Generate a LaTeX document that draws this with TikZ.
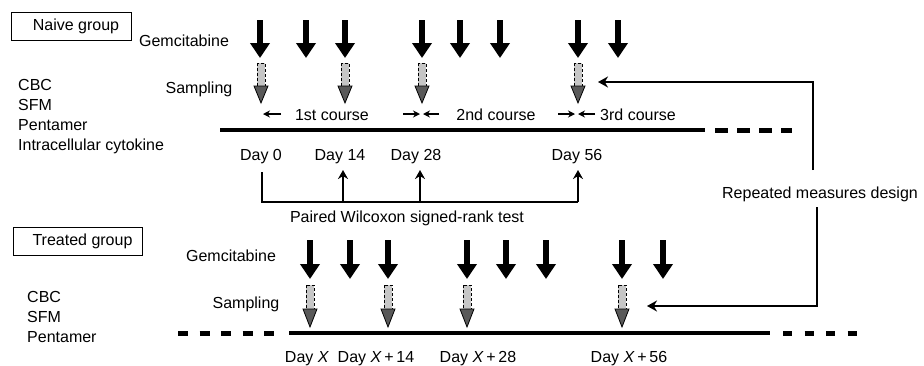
\documentclass[tikz,border=0pt]{standalone}
\usepackage{fontspec}
\setmainfont{Liberation Sans}
\usetikzlibrary{arrows.meta}
\begin{document}
\begin{tikzpicture}[x=1pt,y=-1pt,
  lbl/.style={font=\fontsize{16}{18}\selectfont, inner sep=0pt, text height=11.5pt, text depth=0pt},
  grpbox/.style={draw, line width=0.9pt, minimum width=#1, minimum height=28pt, font=\fontsize{16}{18}\selectfont, inner sep=0pt},
  gem/.style={line width=6pt, -{Triangle[length=15pt,width=19pt]}},
  sampshaft/.style={draw=black, densely dashed, line width=0.8pt, fill=gray!45},
  samphead/.style={draw=black, line width=0.8pt, fill=black!65},
  timeline/.style={line width=4pt},
  dashline/.style={line width=5pt, dash pattern=on 11pt off 11pt},
  coursearr/.style={line width=1.4pt, -{Stealth[length=7pt,width=7pt]}},
  bracket/.style={line width=2.2pt},
  uparr/.style={line width=2.2pt, -{Stealth[length=9pt,width=10pt]}},
  reparr/.style={line width=2pt, -{Stealth[length=10pt,width=11pt]}}
]
\useasboundingbox (0,0) rectangle (924,365);

% ---------------- Naive group ----------------
\node[grpbox=120pt] (naive) at (71,26) {\hspace*{10pt}Naive group};
\node[lbl] (gemA) at (184,41) {Gemcitabine};
\node[lbl] (sampA) at (199,88) {Sampling};
\node[lbl, anchor=west] (cbcA) at (18,85) {CBC};
\node[lbl, anchor=west] (sfmA) at (18,105) {SFM};
\node[lbl, anchor=west] (penA) at (18,125) {Pentamer};
\node[lbl, anchor=west] (icA) at (18,145) {Intracellular cytokine};

\foreach \x in {260,306,345,422,460,500,578,618}
  \draw[gem] (\x,20) -- (\x,58);
\foreach \x in {261,345,422,578}{
  \draw[sampshaft] (\x-4,63) rectangle (\x+4,86);
  \draw[samphead] (\x-7,86) -- (\x+7,86) -- (\x,103) -- cycle;
}

\node[lbl] (c1) at (332,115) {1st course};
\node[lbl] (c2) at (496,115) {2nd course};
\node[lbl] (c3) at (638,115) {3rd course};
\draw[coursearr] (281,114) -- (263,114);
\draw[coursearr] (403,114) -- (420,114);
\draw[coursearr] (439,114) -- (423,114);
\draw[coursearr] (558,114) -- (575,114);
\draw[coursearr] (595,114) -- (578,114);

\coordinate (tlA0) at (220,130);
\coordinate (tlA1) at (705,130);
\coordinate (tlA2) at (715,130);
\coordinate (tlA3) at (792,130);
\draw[timeline] (tlA0) -- (tlA1);
\draw[dashline, dash pattern=on 13pt off 9pt] (tlA2) -- (tlA3);

\node[lbl] (d0) at (261,155) {Day 0};
\node[lbl] (d14) at (340,155) {Day 14};
\node[lbl] (d28) at (416,155) {Day 28};
\node[lbl] (d56) at (577,155) {Day 56};

% Wilcoxon bracket
\coordinate (w0t) at (262,172);
\coordinate (w0b) at (262,202);
\coordinate (w14b) at (343,202);
\coordinate (w14t) at (343,170);
\coordinate (w28b) at (420,202);
\coordinate (w28t) at (420,170);
\coordinate (w56b) at (578,202);
\coordinate (w56t) at (578,170);
\draw[bracket] (w0t) -- (w0b) -- (w56b);
\draw[uparr] (w14b) -- (w14t);
\draw[uparr] (w28b) -- (w28t);
\draw[uparr] (w56b) -- (w56t);
\node[lbl] (wil) at (407,217) {Paired Wilcoxon signed-rank test};

% Repeated measures
\node[lbl] (rep) at (820,193) {Repeated measures design};
\coordinate (rA) at (813,170);
\coordinate (rAc) at (813,82);
\coordinate (rAe) at (598,82);
\draw[reparr] (rA) -- (rAc) -- (rAe);
\coordinate (rB) at (817,207);
\coordinate (rBc) at (817,306);
\coordinate (rBe) at (647,306);
\draw[reparr] (rB) -- (rBc) -- (rBe);

% ---------------- Treated group ----------------
\node[grpbox=129pt] (treated) at (77.5,241) {\hspace*{10pt}Treated group};
\node[lbl] (gemB) at (231,256) {Gemcitabine};
\node[lbl] (sampB) at (246,303) {Sampling};
\node[lbl, anchor=west] (cbcB) at (27,297) {CBC};
\node[lbl, anchor=west] (sfmB) at (27,317) {SFM};
\node[lbl, anchor=west] (penB) at (27,337) {Pentamer};

\foreach \x in {310,350,388,467,506,546,622,663}
  \draw[gem] (\x,240) -- (\x,279);
\foreach \x in {310,388,467,622}{
  \draw[sampshaft] (\x-4,285) rectangle (\x+4,309);
  \draw[samphead] (\x-7,309) -- (\x+7,309) -- (\x,327) -- cycle;
}

\coordinate (tlB0) at (178,333);
\coordinate (tlB1) at (275,333);
\coordinate (tlB2) at (289,333);
\coordinate (tlB3) at (770,333);
\coordinate (tlB4) at (783,333);
\coordinate (tlB5) at (860,333);
\draw[dashline, dash pattern=on 10pt off 11.5pt] (tlB0) -- (tlB1);
\draw[timeline] (tlB2) -- (tlB3);
\draw[dashline, dash pattern=on 9pt off 12.5pt] (tlB4) -- (tlB5);

\node[lbl] (dx) at (307,357) {Day \textit{X}};
\node[lbl] (dx14) at (376,357) {Day \textit{X}\,+\,14};
\node[lbl] (dx28) at (478,357) {Day \textit{X}\,+\,28};
\node[lbl] (dx56) at (629,357) {Day \textit{X}\,+\,56};
\end{tikzpicture}
\end{document}
